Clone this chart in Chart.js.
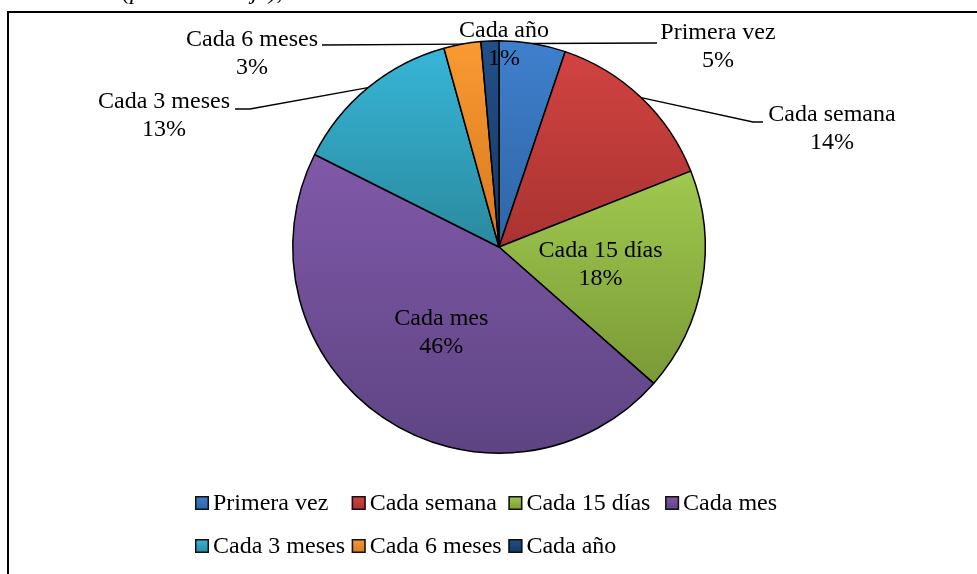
<!DOCTYPE html>
<html>
<head>
<meta charset="utf-8">
<script src="https://cdn.jsdelivr.net/npm/chart.js@4.4.1/dist/chart.umd.min.js"></script>
<style>
  html, body { margin: 0; padding: 0; background: #fff; }
  #wrap { width: 977px; height: 574px; position: relative; }
</style>
</head>
<body>
<div id="wrap"><canvas id="chart" width="977" height="574"></canvas></div>
<script>
const labels = ['Primera vez', 'Cada semana', 'Cada 15 días', 'Cada mes', 'Cada 3 meses', 'Cada 6 meses', 'Cada año'];
const values = [5.2, 13.8, 17.5, 45.9, 13.3, 2.9, 1.4];
const topColors = ['#3f80cd', '#d24341', '#a0c94f', '#8059a9', '#37b5d7', '#f99a32', '#22508a'];
const bottomColors = ['#2e64a6', '#a93331', '#7a9a36', '#5e4483', '#2a8a9f', '#d8781e', '#17385e'];

const SERIF = '"Liberation Serif", "Times New Roman", serif';

// where Excel put the outside labels (text centre, first line) and the leader line bends
const outsideLabels = {
  0: { x: 718, y: 33, line: [[657, 43]] },
  1: { x: 832, y: 115, line: [[753, 122], [763, 122]] },
  4: { x: 164, y: 102, line: [[250, 109], [235, 109]] },
  5: { x: 252, y: 40, line: [[322, 45]] },
  6: { x: 504, y: 31, line: [] }
};

const pct = v => Math.round(v) + '%';

const frame = {
  id: 'frame',
  beforeDraw(chart) {
    const ctx = chart.ctx;
    ctx.save();
    ctx.fillStyle = '#fff';
    ctx.fillRect(0, 0, chart.width, chart.height);
    // caption cut off above the picture
    ctx.fillStyle = '#000';
    ctx.font = 'italic 24px ' + SERIF;
    ctx.textBaseline = 'alphabetic';
    ctx.fillText('(por cada viaje),', 122, -1);
    ctx.strokeStyle = '#000';
    ctx.lineWidth = 2;
    ctx.beginPath();
    ctx.moveTo(8, chart.height);
    ctx.lineTo(8, 12);
    ctx.lineTo(chart.width, 12);
    ctx.stroke();
    ctx.restore();
  }
};

const sliceGradient = {
  id: 'sliceGradient',
  beforeDatasetsDraw(chart) {
    const ctx = chart.ctx;
    chart.getDatasetMeta(0).data.forEach((arc, i) => {
      const p = arc.getProps(['x', 'y', 'startAngle', 'endAngle', 'outerRadius'], true);
      let top = p.y, bottom = p.y;
      for (let k = 0; k <= 40; k++) {
        const a = p.startAngle + (p.endAngle - p.startAngle) * k / 40;
        const py = p.y + p.outerRadius * Math.sin(a);
        top = Math.min(top, py);
        bottom = Math.max(bottom, py);
      }
      const g = ctx.createLinearGradient(0, top, 0, bottom);
      g.addColorStop(0, topColors[i]);
      g.addColorStop(1, bottomColors[i]);
      arc.options.backgroundColor = g;
    });
  }
};

const sliceLabels = {
  id: 'sliceLabels',
  afterDatasetsDraw(chart) {
    const ctx = chart.ctx;
    const ds = chart.data.datasets[0];
    ctx.save();
    ctx.font = '24px ' + SERIF;
    ctx.textAlign = 'center';
    ctx.textBaseline = 'middle';
    chart.getDatasetMeta(0).data.forEach((arc, i) => {
      const p = arc.getProps(['x', 'y', 'startAngle', 'endAngle', 'outerRadius'], true);
      const mid = (p.startAngle + p.endAngle) / 2;
      const text = chart.data.labels[i];
      const value = pct(ds.data[i]);
      const place = outsideLabels[i];
      if (place) {
        if (place.line.length) {
          ctx.strokeStyle = '#000';
          ctx.lineWidth = 1.3;
          ctx.beginPath();
          ctx.moveTo(p.x + p.outerRadius * Math.cos(mid), p.y + p.outerRadius * Math.sin(mid));
          place.line.forEach(pt => ctx.lineTo(pt[0], pt[1]));
          ctx.stroke();
        }
        ctx.fillStyle = '#000';
        ctx.fillText(text, place.x, place.y);
        ctx.fillText(value, place.x, place.y + 28);
      } else {
        const cx = p.x + p.outerRadius / 2 * Math.cos(mid);
        const cy = p.y + p.outerRadius / 2 * Math.sin(mid);
        ctx.fillStyle = '#000';
        ctx.fillText(text, cx, cy - 14);
        ctx.fillText(value, cx, cy + 14);
      }
    });
    ctx.restore();
  }
};

const gridLegend = {
  id: 'gridLegend',
  afterDraw(chart) {
    const ctx = chart.ctx;
    ctx.save();
    ctx.font = '24px ' + SERIF;
    ctx.textAlign = 'left';
    ctx.textBaseline = 'middle';
    chart.data.labels.forEach((lab, i) => {
      const col = i % 4, row = Math.floor(i / 4);
      const bx = 195 + col * 156.7;
      const cy = 503 + row * 43;
      const g = ctx.createLinearGradient(0, cy - 7, 0, cy + 7);
      g.addColorStop(0, topColors[i]);
      g.addColorStop(1, bottomColors[i]);
      ctx.fillStyle = g;
      ctx.fillRect(bx, cy - 7, 14, 14);
      ctx.strokeStyle = '#111';
      ctx.lineWidth = 1.5;
      ctx.strokeRect(bx + 0.75, cy - 6.25, 12.5, 12.5);
      ctx.fillStyle = '#000';
      ctx.fillText(lab, bx + 18, cy + 1);
    });
    ctx.restore();
  }
};

new Chart(document.getElementById('chart'), {
  type: 'pie',
  data: {
    labels: labels,
    datasets: [{
      data: values,
      backgroundColor: topColors,
      borderColor: '#000',
      borderWidth: 1.5
    }]
  },
  options: {
    responsive: false,
    animation: false,
    layout: { padding: { left: 292, right: 271, top: 40, bottom: 120 } },
    plugins: {
      legend: { display: false },
      tooltip: { enabled: false }
    }
  },
  plugins: [frame, sliceGradient, sliceLabels, gridLegend]
});
</script>
</body>
</html>
